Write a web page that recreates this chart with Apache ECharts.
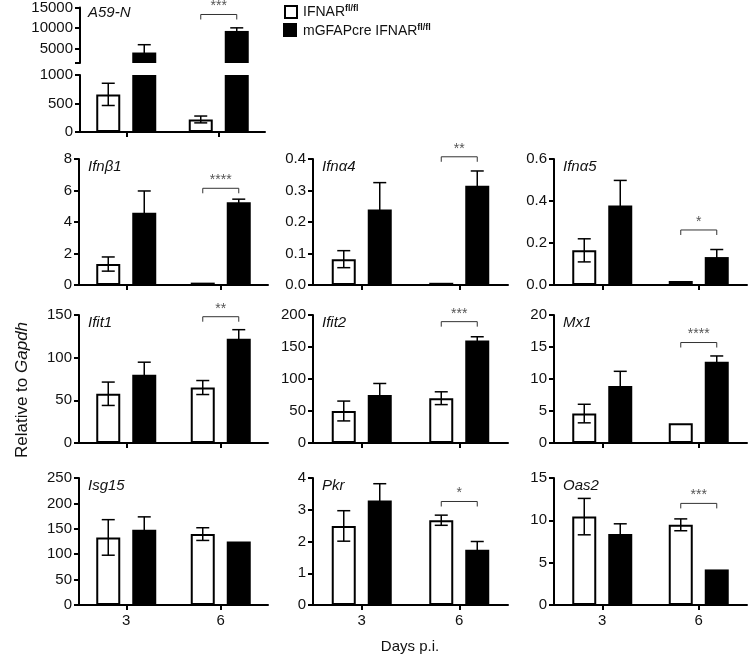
<!DOCTYPE html>
<html>
<head>
<meta charset="utf-8">
<script src="https://cdn.jsdelivr.net/npm/echarts@6/dist/echarts.min.js"></script>
<style>html,body{margin:0;padding:0;background:#fff;}#c{width:750px;height:656px;}</style>
</head>
<body>
<div id="c"></div>
<script>
// ---------- DATA ----------
const categories = ['3', '6'];
const panelNames = ['A59-N', 'Ifnβ1', 'Ifnα4', 'Ifnα5', 'Ifit1', 'Ifit2', 'Mx1', 'Isg15', 'Pkr', 'Oas2'];
const seriesNames = ['IFNAR fl/fl', 'mGFAPcre IFNAR fl/fl'];
const wtMean = [[660, 220], [1.33, 0.15], [0.082, 0.007], [0.165, 0.019], [57.7, 65], [50, 70], [4.6, 3.1], [133, 139.6], [2.49, 2.67], [10.44, 9.47]];
const wtSem  = [[195, 60], [0.45, 0], [0.027, 0], [0.055, 0], [13.7, 8.2], [15.5, 10], [1.45, 0], [35, 12.5], [0.48, 0.16], [2.15, 0.7]];
const koMean = [[4050, 9300], [4.59, 5.25], [0.24, 0.315], [0.379, 0.133], [79.9, 122.3], [75, 160], [8.9, 12.7], [148, 125], [3.29, 1.74], [8.39, 4.2]];
const koSem  = [[1900, 750], [1.38, 0.2], [0.085, 0.047], [0.119, 0.036], [14.8, 10.5], [18, 6], [2.3, 0.9], [25.5, 0], [0.53, 0.26], [1.2, 0]];
const sigStars  = ['***', '****', '**', '*', '**', '***', '****', '', '*', '***'];
const sigHeight = [13300, 6.14, 0.407, 0.262, 148, 189.6, 15.7, null, 3.26, 12];
const yMax      = [15000, 8, 0.4, 0.6, 150, 200, 20, 250, 4, 15];
const yInterval = [5000, 2, 0.1, 0.2, 50, 50, 5, 50, 1, 5];
const yDecimals = [0, 0, 1, 1, 0, 0, 0, 0, 0, 0];
const a59UpperMin = 1500;
const a59UpperTicks = [1500, 5000, 10000, 15000];
const a59UpperLabels = [5000, 10000, 15000];
const a59LowerMax = 1000;
const a59LowerInterval = 500;

// ---------- LAYOUT ----------
const FONT = 'Liberation Sans, Arial, sans-serif';
const colLeft = [79, 313, 554];
const colWidth = [189, 195, 193];
const rowTop = [159, 315, 478];
const rowHeight = [126, 128, 127];
const BAR_W = 24, OFF = 18;
const LABEL_MARGIN = 7;

const grids = [], xAxes = [], yAxes = [], series = [], graphics = [];

function xAxisFor(gi, showLabel, showLine) {
  return {
    type: 'category', gridIndex: gi, data: categories,
    axisLine: {show: showLine, lineStyle: {color: '#000', width: 2}},
    axisTick: {show: showLine, alignWithLabel: true, length: 5, lineStyle: {color: '#000', width: 2}},
    axisLabel: {show: showLabel, color: '#111', fontSize: 15, fontFamily: FONT, margin: 8},
    splitLine: {show: false}
  };
}
function yAxisFor(gi, min, max, interval, dec, extra) {
  const ax = {
    type: 'value', gridIndex: gi, min: min, max: max, interval: interval,
    axisLine: {show: true, lineStyle: {color: '#000', width: 2}},
    axisTick: {show: true, length: 5, lineStyle: {color: '#000', width: 2}},
    axisLabel: {color: '#111', fontSize: 15, fontFamily: FONT, margin: LABEL_MARGIN,
      formatter: v => Number(v).toFixed(dec)},
    splitLine: {show: false}
  };
  return Object.assign(ax, extra || {});
}
function errRender(offset) {
  return function (params, api) {
    const i = api.value(0), m = api.value(1), s = api.value(2);
    if (!s) return null;
    const top = api.coord([i, m + s]);
    const bot = api.coord([i, m - s]);
    const x = top[0] + offset, hw = 6.5;
    const st = {stroke: '#000', lineWidth: 1.5};
    return {type: 'group', children: [
      {type: 'line', shape: {x1: x, y1: top[1], x2: x, y2: bot[1]}, style: st},
      {type: 'line', shape: {x1: x - hw, y1: top[1], x2: x + hw, y2: top[1]}, style: st},
      {type: 'line', shape: {x1: x - hw, y1: bot[1], x2: x + hw, y2: bot[1]}, style: st}
    ]};
  };
}
function bracketRender(stars) {
  return function (params, api) {
    const p = api.coord([api.value(0), api.value(1)]);
    const x1 = p[0] - OFF, x2 = p[0] + OFF, y = p[1];
    return {type: 'group', children: [
      {type: 'polyline', shape: {points: [[x1, y + 5], [x1, y], [x2, y], [x2, y + 5]]},
        style: {stroke: '#333', lineWidth: 1, fill: null}},
      {type: 'text', x: p[0], y: y - 1, style: {text: stars, fill: '#555', fontSize: 14,
        fontFamily: FONT, align: 'center', verticalAlign: 'bottom'}}
    ]};
  };
}
function addPanelSeries(gi, p, wtData, koData, wtErr, koErr, withBracket) {
  series.push({type: 'bar', name: seriesNames[0], xAxisIndex: gi, yAxisIndex: gi, data: wtData,
    barWidth: BAR_W, barGap: '50%', itemStyle: {color: '#fff', borderColor: '#000', borderWidth: 2}, silent: true});
  series.push({type: 'bar', name: seriesNames[1], xAxisIndex: gi, yAxisIndex: gi, data: koData,
    barWidth: BAR_W, barGap: '50%', itemStyle: {color: '#000'}, silent: true});
  if (wtErr.length) series.push({type: 'custom', xAxisIndex: gi, yAxisIndex: gi, renderItem: errRender(-OFF), data: wtErr, z: 5, silent: true});
  if (koErr.length) series.push({type: 'custom', xAxisIndex: gi, yAxisIndex: gi, renderItem: errRender(OFF), data: koErr, z: 5, silent: true});
  if (withBracket && sigHeight[p] != null) {
    series.push({type: 'custom', xAxisIndex: gi, yAxisIndex: gi, renderItem: bracketRender(sigStars[p]),
      data: [[1, sigHeight[p]]], z: 6, silent: true});
  }
}

// A59-N: broken axis drawn as two stacked grids
grids.push({left: 80, top: 7, width: 185, height: 56});
xAxes.push(xAxisFor(0, false, false));
yAxes.push(yAxisFor(0, a59UpperMin, yMax[0], null, 0, {
  axisTick: {show: true, length: 5, customValues: a59UpperTicks, lineStyle: {color: '#000', width: 2}},
  axisLabel: {color: '#111', fontSize: 15, fontFamily: FONT, margin: LABEL_MARGIN, customValues: a59UpperLabels,
    formatter: v => String(Math.round(v))}
}));
addPanelSeries(0, 0, ['-', '-'], koMean[0],
  [], koMean[0].map((m, i) => [i, m, koSem[0][i]]), true);

grids.push({left: 80, top: 75, width: 185, height: 57});
xAxes.push(xAxisFor(1, false, true));
yAxes.push(yAxisFor(1, 0, a59LowerMax, a59LowerInterval, 0));
addPanelSeries(1, 0, wtMean[0], koMean[0],
  wtMean[0].map((m, i) => [i, m, wtSem[0][i]]), [], false);

graphics.push({type: 'text', left: 88, top: 5, style: {text: panelNames[0], fontSize: 15,
  fontStyle: 'italic', fontFamily: FONT, fill: '#111'}});

// 3x3 panels
for (let p = 1; p < panelNames.length; p++) {
  const r = Math.floor((p - 1) / 3), c = (p - 1) % 3;
  const gi = grids.length;
  grids.push({left: colLeft[c], top: rowTop[r], width: colWidth[c], height: rowHeight[r]});
  xAxes.push(xAxisFor(gi, r === 2, true));
  yAxes.push(yAxisFor(gi, 0, yMax[p], yInterval[p], yDecimals[p]));
  addPanelSeries(gi, p, wtMean[p], koMean[p],
    wtMean[p].map((m, i) => [i, m, wtSem[p][i]]),
    koMean[p].map((m, i) => [i, m, koSem[p][i]]), true);
  graphics.push({type: 'text', left: colLeft[c] + 9, top: rowTop[r], style: {text: panelNames[p], fontSize: 15,
    fontStyle: 'italic', fontFamily: FONT, fill: '#111'}});
}

// legend
graphics.push({type: 'rect', left: 284, top: 5, shape: {width: 12, height: 12}, style: {fill: '#fff', stroke: '#000', lineWidth: 2}});
graphics.push({type: 'rect', left: 283, top: 23, shape: {width: 14, height: 14}, style: {fill: '#000'}});
graphics.push({type: 'text', left: 303, top: 4, style: {
  rich: {n: {fontSize: 14, fontFamily: FONT, fill: '#111'}, s: {fontSize: 9, fontWeight: 'bold', fontFamily: FONT, fill: '#111', verticalAlign: 'top', padding: [0, 0, 7, 0]}},
  text: '{n|IFNAR}{s|fl/fl}'}});
graphics.push({type: 'text', left: 303, top: 23, style: {
  rich: {n: {fontSize: 14, fontFamily: FONT, fill: '#111'}, s: {fontSize: 9, fontWeight: 'bold', fontFamily: FONT, fill: '#111', verticalAlign: 'top', padding: [0, 0, 7, 0]}},
  text: '{n|mGFAPcre IFNAR}{s|fl/fl}'}});

// axis titles
graphics.push({type: 'text', x: 22, y: 390, rotation: Math.PI / 2, style: {
  rich: {n: {fontSize: 17, fontFamily: FONT, fill: '#111'}, i: {fontSize: 17, fontFamily: FONT, fill: '#111', fontStyle: 'italic'}},
  text: '{n|Relative to }{i|Gapdh}', align: 'center', verticalAlign: 'middle'}});
graphics.push({type: 'text', x: 410, y: 647, style: {text: 'Days p.i.', fontSize: 15, fontFamily: FONT, fill: '#111',
  align: 'center', verticalAlign: 'middle'}});

const chart = echarts.init(document.getElementById('c'), null, {renderer: 'canvas'});
chart.setOption({
  backgroundColor: '#fff',
  animation: false,
  grid: grids, xAxis: xAxes, yAxis: yAxes, series: series, graphic: graphics
});
</script>
</body>
</html>
